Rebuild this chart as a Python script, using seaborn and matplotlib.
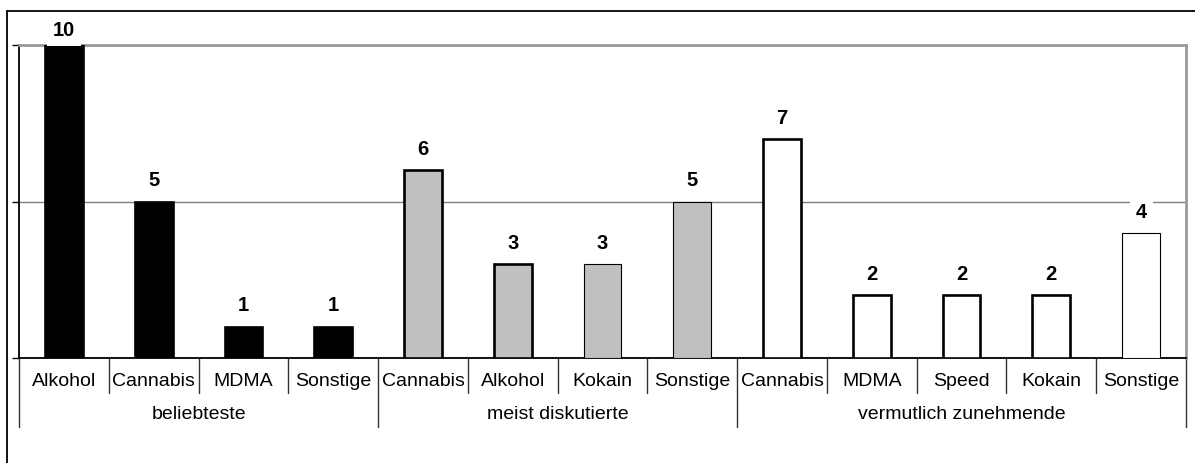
import matplotlib
matplotlib.use("Agg")
import matplotlib.pyplot as plt
import seaborn as sns
import pandas as pd
from matplotlib.lines import Line2D
from matplotlib.transforms import blended_transform_factory

# Survey answers: number of mentions per substance in each question group
groups = ["beliebteste", "meist diskutierte", "vermutlich zunehmende"]
substances = [
    ["Alkohol", "Cannabis", "MDMA", "Sonstige"],
    ["Cannabis", "Alkohol", "Kokain", "Sonstige"],
    ["Cannabis", "MDMA", "Speed", "Kokain", "Sonstige"],
]
counts = [
    [10, 5, 1, 1],
    [6, 3, 3, 5],
    [7, 2, 2, 2, 4],
]
y_ticks = [0, 5, 10]

# Styling
group_colors = ["#000000", "#c0c0c0", "#ffffff"]
edge_widths = [1.9, 1.9, 1.9, 1.9,
               1.9, 1.9, 0.8, 0.8,
               1.9, 1.9, 1.9, 1.9, 0.8]

rows = []
for g, names, vals in zip(groups, substances, counts):
    for n, v in zip(names, vals):
        rows.append({"slot": f"{g}|{n}", "group": g, "substance": n, "count": v})
df = pd.DataFrame(rows)
order = list(df["slot"])

sns.set_theme(style="white")
plt.rcParams["font.family"] = ["Liberation Sans", "DejaVu Sans"]

W, H = 1195, 463
fig = plt.figure(figsize=(W / 100, H / 100), dpi=100)
ax = fig.add_axes([19 / W, 105 / H, (1186 - 19) / W, 313 / H])

sns.barplot(data=df, x="slot", y="count", hue="group", order=order,
            hue_order=groups, palette=dict(zip(groups, group_colors)),
            dodge=False, width=0.42, edgecolor="black", saturation=1,
            legend=False, ax=ax, zorder=3)

for patch in ax.patches:
    idx = int(round(patch.get_x() + patch.get_width() / 2))
    patch.set_linewidth(edge_widths[idx])
    patch.set_zorder(3)

n = len(df)
ax.set_xlim(-0.5, n - 0.5)
ax.set_ylim(0, max(y_ticks))
ax.set_yticks(y_ticks)
ax.yaxis.grid(True, color="#808080", lw=1)
ax.xaxis.grid(False)
ax.set_axisbelow(True)
ax.set_xlabel("")
ax.set_ylabel("")
ax.tick_params(axis="y", left=True, length=5, width=1, color="black",
               labelleft=False, direction="out")
ax.tick_params(axis="x", bottom=False, labelbottom=False)

for side in ["left", "bottom"]:
    ax.spines[side].set_color("black")
    ax.spines[side].set_linewidth(1.3)
for side in ["top", "right"]:
    ax.spines[side].set_color("#999999")
    ax.spines[side].set_linewidth(2)

# Value labels above the bars
top = max(df["count"])
for i, v in enumerate(df["count"]):
    pad = 6.5 if v == top else 11
    ax.annotate(str(v), (i, v), xytext=(0, pad), textcoords="offset points",
                ha="center", va="baseline", fontsize=14.5, fontweight="bold",
                color="black", zorder=5, annotation_clip=False,
                bbox=dict(boxstyle="square,pad=0.3", fc="white", ec="none"))

# Two-level category axis below the plot
trans = blended_transform_factory(ax.transData, ax.transAxes)
for i, name in enumerate(df["substance"]):
    ax.text(i, -0.0735, name, ha="center", va="center", fontsize=14,
            color="black", transform=trans, clip_on=False)

start = 0
group_edges = [-0.5]
for g, names in zip(groups, substances):
    centre = start + (len(names) - 1) / 2
    ax.text(centre, -0.182, g, ha="center", va="center", fontsize=14,
            color="black", transform=trans, clip_on=False)
    for k in range(1, len(names)):
        b = start + k - 0.5
        ax.add_artist(Line2D([b, b], [0, -0.112], transform=trans,
                             color="#333333", lw=1, clip_on=False))
    start += len(names)
    group_edges.append(start - 0.5)

for b in group_edges:
    ax.add_artist(Line2D([b, b], [0, -0.2205], transform=trans,
                         color="#333333", lw=1, clip_on=False))

# Outer frame (top and left edges)
fig.add_artist(Line2D([7 / W, 7 / W], [0, 1 - 11 / H], transform=fig.transFigure,
                      color="black", lw=1.3))
fig.add_artist(Line2D([7 / W, 1], [1 - 11 / H, 1 - 11 / H], transform=fig.transFigure,
                      color="black", lw=1.3))

fig.savefig("out.png", dpi=100)
